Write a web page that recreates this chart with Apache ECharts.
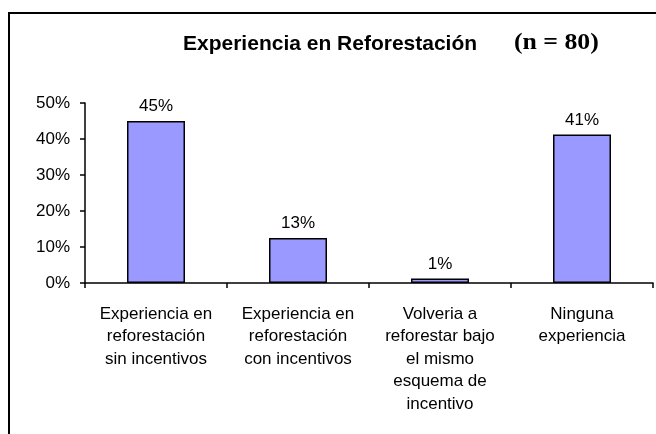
<!DOCTYPE html>
<html>
<head>
<meta charset="utf-8">
<script src="https://cdn.jsdelivr.net/npm/echarts@6/dist/echarts.min.js"></script>
<style>
  html, body {margin:0; padding:0; background:#fff;}
  #chart {width:656px; height:434px;}
</style>
</head>
<body>
<div id="chart"></div>
<script>
// datos del grafico (n = 80)
var categorias = [
    'Experiencia en\nreforestación\nsin incentivos',
    'Experiencia en\nreforestación\ncon incentivos',
    'Volveria a\nreforestar bajo\nel mismo\nesquema de\nincentivo',
    'Ninguna\nexperiencia'
];
var porcentajes = [45, 12.5, 1.25, 41.25];
var ticksY = [0, 10, 20, 30, 40, 50];

var fuente = 'Arial, "Liberation Sans", sans-serif';
var chart = echarts.init(document.getElementById('chart'));
var option = {
    animation: false,
    graphic: [
        {type:'rect', shape:{x:9, y:13, width:700, height:500},
         style:{fill:'none', stroke:'#000', lineWidth:2}},
        {type:'text', x:183, y:44,
         style:{text:'Experiencia en Reforestación', font:'bold 21px ' + fuente,
                fill:'#000', verticalAlign:'middle'}},
        {type:'text', x:514, y:43, scaleX:1.12,
         style:{text:'(n = 80)', font:'bold 23px "Liberation Serif", "Times New Roman", serif',
                fill:'#000', verticalAlign:'middle'}}
    ],
    grid: {left:85, right:3, top:103, bottom:151, containLabel:false},
    xAxis: [{
        type: 'category',
        data: categorias,
        axisLine: {show:true, lineStyle:{color:'#000', width:1.5}},
        axisTick: {show:true, alignWithLabel:false, length:5, lineStyle:{color:'#000', width:1.5}},
        axisLabel: {interval:0, color:'#000', fontSize:17, lineHeight:22.5, margin:20,
                    fontFamily: fuente}
    }],
    yAxis: [{
        type: 'value',
        min: ticksY[0],
        max: ticksY[ticksY.length-1],
        interval: 10,
        splitLine: {show:false},
        axisLine: {show:true, lineStyle:{color:'#000', width:1.5}},
        axisTick: {show:true, length:5, lineStyle:{color:'#000', width:1.5}},
        axisLabel: {color:'#000', fontSize:17, margin:15, fontFamily: fuente,
                    formatter: function(v){ return v + '%'; }}
    }],
    series: [{
        type: 'bar',
        data: porcentajes,
        barWidth: 58,
        itemStyle: {color:'#9999FF', borderColor:'#000', borderWidth:1.5},
        label: {show:true, position:'top', distance:6, color:'#000', fontSize:17,
                fontFamily: fuente,
                formatter: function(p){ return Math.round(p.value) + '%'; }}
    }]
};
chart.setOption(option);
</script>
</body>
</html>
